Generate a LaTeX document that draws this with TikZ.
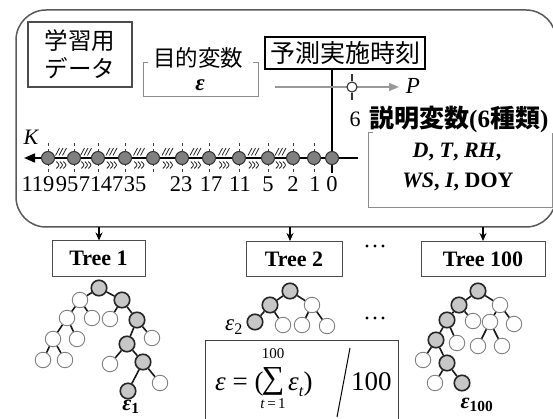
\documentclass[tikz,border=0pt]{standalone}
\usepackage{fontspec}
\setmainfont{Liberation Serif}
\newfontfamily\jp{Noto Sans CJK JP}
\usetikzlibrary{arrows.meta}
\begin{document}
\begin{tikzpicture}[x=1pt,y=-1pt,
  gnode/.style={circle,draw=black!85,line width=1.6pt,fill=black!22,minimum size=15.5pt,inner sep=0pt},
  wnode/.style={circle,draw=black!50,line width=0.9pt,fill=white,minimum size=15.5pt,inner sep=0pt},
  tedge/.style={line width=1.6pt,black!90},
  tcirc/.style={circle,draw=black!80,line width=1pt,fill=black!50,minimum size=13pt,inner sep=0pt},
  tbox/.style={draw=black!70,line width=1pt,inner sep=0pt,font=\bfseries\fontsize{22}{22}\selectfont},
  bracket/.style={draw=black!45,line width=1pt},
  downarrow/.style={line width=1.2pt,-{Stealth[length=8pt,width=7pt]}},
  tick/.style={draw=black!75,line width=1pt,dash pattern=on 3.5pt off 3pt},
  brk/.style={line width=0.8pt,black!85}
]
\useasboundingbox (0,0) rectangle (553,419);
\clip (0,0) rectangle (553,419);

% outer rounded box
\draw[draw=black!65,line width=1.5pt,rounded corners=30pt] (16,10) rectangle (556,227);

% learning data box
\node[draw=black!70,line width=1.2pt,minimum width=104pt,minimum height=65pt,align=center,
      font=\jp\fontsize{23.5}{28}\selectfont,inner sep=0pt] (gd) at (80,54.5) {学習用\\データ};

% objective variable bracket
\draw[bracket] (148,63) -- (143,63) -- (143,97) -- (258,97) -- (258,63) -- (253,63);
\node[font=\jp\fontsize{22.5}{22.5}\selectfont] (mv) at (198,58) {目的変数};
\node[font=\bfseries\itshape\fontsize{23}{23}\selectfont] (eps) at (200,85) {ε};

% prediction time box
\node[draw=black,line width=1.2pt,minimum width=160pt,minimum height=32pt,inner sep=0pt,
      font=\jp\fontsize{25}{25}\selectfont] (yb) at (345,53) {予測実施時刻};
\coordinate (vb) at (332,173);
\draw[line width=1.5pt] (yb.south -| vb) -- (vb);

% P arrow
\coordinate (ps) at (275,87);
\coordinate (pe) at (399,87);
\draw[draw=black!40,line width=1.6pt,-{Triangle[length=10pt,width=8pt]}] (ps) -- (pe);
\node[circle,draw=black!80,line width=1.1pt,fill=white,minimum size=10pt,inner sep=0pt] (pc) at (352,87) {};
\draw[line width=1.1pt,black!80] (pc.north) -- ++(0,-7);
\draw[line width=1.1pt,black!80] (pc.south) -- ++(0,7);
\node[font=\itshape\fontsize{23}{23}\selectfont] (pl) at (413,86) {P};

% explanatory variables
\node[font=\fontsize{22}{22}\selectfont] (six) at (355,119) {6};
\node[font=\bfseries\fontsize{25}{25}\selectfont,anchor=west,inner sep=0pt] (sm) at (369,119) {{\jp 説明変数}(6{\jp 種類})};
\draw[bracket] (373,133) -- (368,133) -- (368,208) -- (552,208) -- (552,133);
\node[font=\bfseries\fontsize{22}{22}\selectfont] (ev1) at (457,152) {\textit{D}, \textit{T}, \textit{RH},};
\node[font=\bfseries\fontsize{22}{22}\selectfont] (ev2) at (458,182) {\textit{WS}, \textit{I}, DOY};

% timeline
\foreach \x in {48,74,98,125,153,182,209,239,268,293,314}
  \draw[tick] (\x,143) -- (\x,174);
\coordinate (ke) at (358,158);
\coordinate (ks) at (24,158);
\draw[line width=1.7pt,-{Triangle[length=11pt,width=9pt]}] (ke) -- (ks);
\foreach \x/\n in {48/119,74/95,98/71,125/47,153/35,182/23,209/17,239/11,268/5,293/2,314/1,332/0}
  \node[tcirc] (k\n) at (\x,158) {};
\foreach \g in {61,86,111.5,139,167.5,195.5,224,253.5,280.5} {
  \foreach \k in {-3.5,0,3.5} {
    \draw[brk] (\g+\k-2,155.5) -- (\g+\k+2,148);
    \draw[brk] (\g+\k-1.2,161.5) .. controls (\g+\k+2.4,165) .. (\g+\k-1.2,168.5);
  }
}
\node[font=\itshape\fontsize{22}{22}\selectfont] (kl) at (31,137) {K};
\foreach \x/\n in {38/119,67/95,90/71,112/47,135/35,181/23,211/17,240/11,268/5,293/2,315/1,332/0}
  \node[font=\fontsize{22.5}{22.5}\selectfont,inner sep=0pt] (l\n) at (\x,184) {\n};

% arrows to trees
\coordinate (o1) at (99,227);
\coordinate (o2) at (290,227);
\coordinate (o3) at (483,227);
\node[tbox,minimum width=93pt,minimum height=35pt] (t1) at (98.5,258.5) {Tree 1};
\node[tbox,minimum width=96pt,minimum height=35pt] (t2) at (294,259) {Tree 2};
\node[tbox,minimum width=124pt,minimum height=35pt] (t3) at (483,259) {Tree 100};
\draw[downarrow] (o1) -- (t1.north -| o1);
\draw[downarrow] (o2) -- (t2.north -| o2);
\draw[downarrow] (o3) -- (t3.north -| o3);

% dots
\foreach \y in {246,318}
  \foreach \x in {367,375,383}
    \fill (\x,\y) circle (1.7);

% Tree 1
\node[gnode] (a1) at (99,288) {};
\node[wnode] (a2) at (80,300) {};
\node[gnode] (a3) at (122,300) {};
\node[wnode] (a4) at (67,318) {};
\node[wnode] (a5) at (92,318) {};
\node[wnode] (a6) at (110,319) {};
\node[gnode] (a7) at (137,320) {};
\node[wnode] (a8) at (53,339) {};
\node[wnode] (a9) at (77,339) {};
\node[gnode] (a10) at (127,344) {};
\node[wnode] (a11) at (152,338) {};
\node[wnode] (a12) at (43,360) {};
\node[wnode] (a13) at (65,360) {};
\node[wnode] (a14) at (110,364) {};
\node[gnode] (a15) at (143,362) {};
\node[gnode] (a16) at (128,391) {};
\node[wnode] (a17) at (160,383) {};
\foreach \p/\c in {a1/a2,a1/a3,a2/a4,a2/a5,a3/a6,a3/a7,a4/a8,a4/a9,a7/a10,a7/a11,a8/a12,a8/a13,a10/a14,a10/a15,a15/a16,a15/a17}
  \draw[tedge] (\p) -- (\c);
\node[font=\bfseries\itshape\fontsize{22}{22}\selectfont,inner sep=1pt] (e1) at (131,407) {ε\textsubscript{\upshape 1}};

% Tree 2
\node[gnode] (b1) at (290,291) {};
\node[gnode] (b2) at (270,305) {};
\node[wnode] (b3) at (312,305) {};
\node[gnode] (b4) at (255,322) {};
\node[wnode] (b5) at (283,325) {};
\node[wnode] (b6) at (302,325) {};
\node[wnode] (b7) at (327,326) {};
\foreach \p/\c in {b1/b2,b1/b3,b2/b4,b2/b5,b3/b6,b3/b7}
  \draw[tedge] (\p) -- (\c);
\node[font=\itshape\fontsize{23}{23}\selectfont] (e2) at (234,327) {ε\textsubscript{\upshape 2}};

% Tree 100
\node[gnode] (c1) at (478,291) {};
\node[gnode] (c2) at (459,305) {};
\node[wnode] (c3) at (500,305) {};
\node[gnode] (c4) at (447,320) {};
\node[wnode] (c5) at (473,321) {};
\node[wnode] (c6) at (490,322) {};
\node[wnode] (c7) at (514,324) {};
\node[gnode] (c8) at (436,340) {};
\node[wnode] (c9) at (457,343) {};
\node[wnode] (c10) at (478,346) {};
\node[wnode] (c11) at (502,346) {};
\node[wnode] (c12) at (423,360) {};
\node[gnode] (c13) at (447,363) {};
\node[wnode] (c14) at (435,383) {};
\node[gnode] (c15) at (462,383) {};
\foreach \p/\c in {c1/c2,c1/c3,c2/c4,c2/c5,c3/c6,c3/c7,c4/c8,c4/c9,c6/c10,c6/c11,c8/c12,c8/c13,c13/c14,c13/c15}
  \draw[tedge] (\p) -- (\c);
\node[font=\bfseries\itshape\fontsize{22}{22}\selectfont,inner sep=1pt] (e3) at (477,405) {ε\textsubscript{\upshape 100}};

% formula box
\coordinate (f1) at (205,425);
\coordinate (f2) at (205,340);
\coordinate (f3) at (398,340);
\coordinate (f4) at (398,425);
\draw[draw=black!75,line width=1pt] (f1) -- (f2) -- (f3) -- (f4);
\node[anchor=base west,font=\fontsize{27}{27}\selectfont,inner sep=0pt] (fa) at (215,390) {\textit{ε} = (};
\node[anchor=base,font=\fontsize{32}{32}\selectfont,inner sep=0pt] (fs) at (273,388) {∑};
\node[anchor=base,font=\fontsize{15}{15}\selectfont,inner sep=0pt] (fu) at (273,358) {100};
\node[font=\fontsize{15}{15}\selectfont,inner sep=0pt] (fl) at (273,404) {\textit{t}\,=\,1};
\node[anchor=base west,font=\fontsize{27}{27}\selectfont,inner sep=0pt] (fb) at (288,390) {\textit{ε}\raisebox{-0.25em}{\fontsize{16}{16}\selectfont\textit{t}})};
\coordinate (s1) at (350,348);
\coordinate (s2) at (337,417);
\draw[line width=1pt] (s1) -- (s2);
\node[anchor=base west,font=\fontsize{27}{27}\selectfont,inner sep=0pt] (hd) at (351,390) {100};
\end{tikzpicture}
\end{document}
